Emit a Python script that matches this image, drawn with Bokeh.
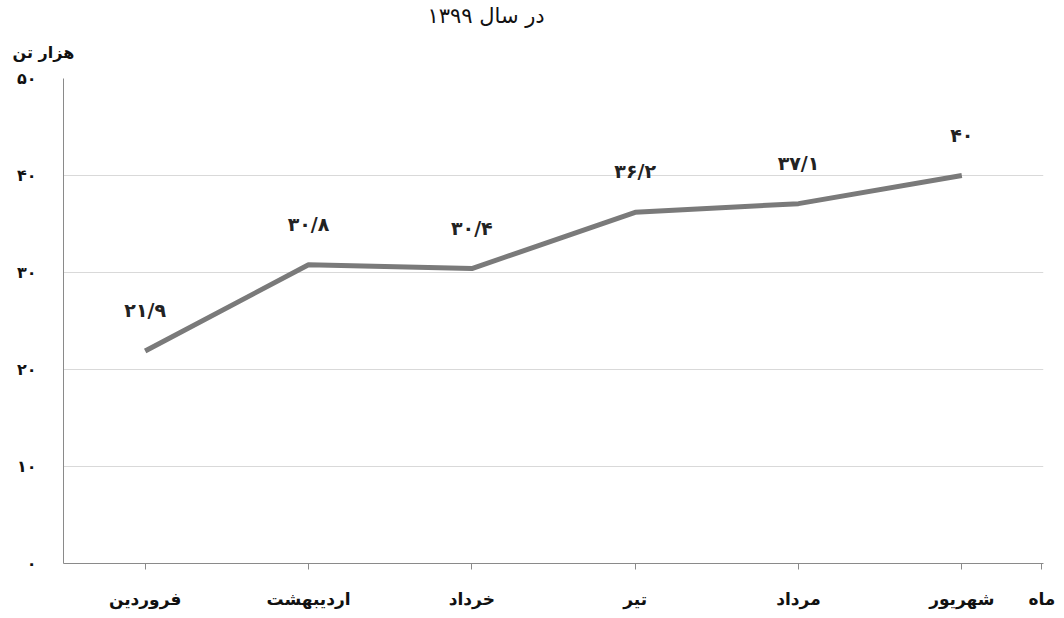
from bokeh.plotting import figure
from bokeh.models import ColumnDataSource, Range1d, FixedTicker, Title
from bokeh.core.properties import value
from bokeh.embed import file_html
from bokeh.resources import INLINE

# data
months = ["فروردین", "اردیبهشت", "خرداد", "تیر", "مرداد", "شهریور"]
values = [21.9, 30.8, 30.4, 36.2, 37.1, 40.0]
value_labels = ["۲۱/۹", "۳۰/۸", "۳۰/۴", "۳۶/۲", "۳۷/۱", "۴۰"]
y_ticks = [0, 10, 20, 30, 40, 50]
y_tick_labels = ["۰", "۱۰", "۲۰", "۳۰", "۴۰", "۵۰"]
title_text = "در سال ۱۳۹۹"
y_unit = "هزار تن"
x_unit = "ماه"

FONT = "DejaVu Sans"
xs = list(range(len(months)))
src = ColumnDataSource(dict(x=xs, y=values, lab=value_labels))

W, H = 1064, 618
p = figure(width=W, height=H, output_backend="svg", toolbar_location=None,
           x_range=Range1d(-0.5, len(months) - 0.5), y_range=Range1d(0, 50),
           min_border_left=63, min_border_right=21, min_border_top=78, min_border_bottom=55,
           title=title_text)
p.outline_line_color = None
p.background_fill_color = "white"
p.border_fill_color = "white"

# main title (outermost above panel)
p.title.align = "left"
p.title.offset = 364
p.title.standoff = 0
p.title.vertical_align = "bottom"
p.title.text_font = FONT
p.title.text_font_size = "21px"
p.title.text_font_style = "normal"
p.title.text_color = "#111111"

# unit of the y values, above the frame at the left
p.add_layout(Title(text=y_unit, align="left", offset=-51, standoff=30, vertical_align="top",
                   text_font=FONT, text_font_size="16px", text_font_style="bold",
                   text_color="#111111"), "above")

p.line("x", "y", source=src, line_color="#7a7a7a", line_width=5, line_join="round")
p.text("x", "y", text="lab", source=src, y_offset=-30, text_align="center",
       text_baseline="bottom", text_font=value(FONT), text_font_size="19px",
       text_font_style="bold", text_color="#222222")

# axes: month ticks plus the axis-end label for the months
end_pos = len(months) - 0.51
p.xaxis.ticker = FixedTicker(ticks=xs + [end_pos])
overrides = {i: m for i, m in enumerate(months)}
overrides[end_pos] = x_unit
p.xaxis.major_label_overrides = overrides
p.xaxis.major_tick_in = 0
p.xaxis.major_tick_out = 6
p.xaxis.minor_tick_line_color = None
p.xaxis.axis_line_color = "#8a8a8a"
p.xaxis.major_tick_line_color = "#8a8a8a"
p.xaxis.major_label_standoff = 19
p.xaxis.major_label_text_font = FONT
p.xaxis.major_label_text_font_size = "17px"
p.xaxis.major_label_text_font_style = "bold"
p.xaxis.major_label_text_color = "#111111"

p.yaxis.ticker = FixedTicker(ticks=y_ticks)
p.yaxis.major_label_overrides = {t: l for t, l in zip(y_ticks, y_tick_labels)}
p.yaxis.major_tick_in = 0
p.yaxis.major_tick_out = 0
p.yaxis.minor_tick_line_color = None
p.yaxis.axis_line_color = "#8a8a8a"
p.yaxis.major_label_standoff = 27
p.yaxis.major_label_text_font = FONT
p.yaxis.major_label_text_font_size = "16px"
p.yaxis.major_label_text_font_style = "bold"
p.yaxis.major_label_text_color = "#111111"

p.xgrid.grid_line_color = None
p.ygrid.grid_line_color = "#d9d9d9"
p.ygrid.grid_line_width = 1

open("out.html", "w").write(file_html(p, INLINE))
